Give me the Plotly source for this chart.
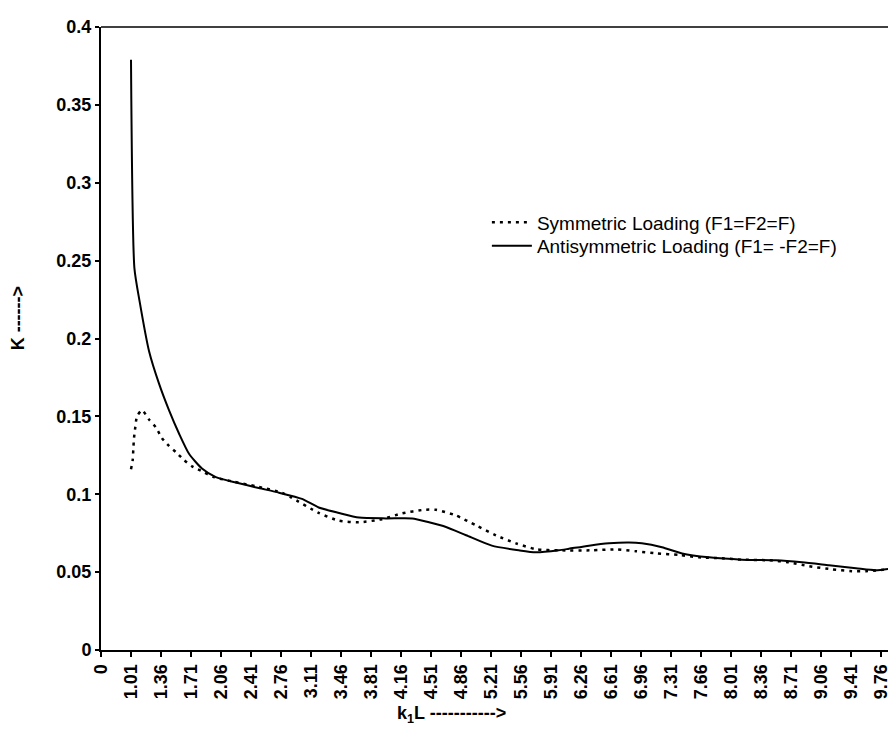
import plotly.graph_objects as go

# Tick labels along the k1L axis
x_tick_labels = ["0", "1.01", "1.36", "1.71", "2.06", "2.41", "2.76", "3.11", "3.46",
                 "3.81", "4.16", "4.51", "4.86", "5.21", "5.56", "5.91", "6.26", "6.61",
                 "6.96", "7.31", "7.66", "8.01", "8.36", "8.71", "9.06", "9.41", "9.76"]
y_tick_values = [0, 0.05, 0.1, 0.15, 0.2, 0.25, 0.3, 0.35, 0.4]
y_tick_labels = ["0", "0.05", "0.1", "0.15", "0.2", "0.25", "0.3", "0.35", "0.4"]

# Symmetric loading (F1=F2=F) -- dotted
sym_k = [1.01, 1.03, 1.037, 1.045, 1.06, 1.08, 1.138, 1.22, 1.30, 1.372, 1.453, 1.535,
         1.628, 1.72, 1.827, 1.978, 2.212, 2.48, 2.77, 2.877, 3.20, 3.437, 3.67, 3.938,
         4.172, 4.428, 4.57, 4.80, 5.035, 5.27, 5.50, 5.747, 6.0, 6.388, 6.668, 6.90,
         7.147, 7.404, 7.637, 7.905, 8.138, 8.454, 8.687, 8.92, 9.19, 9.422, 9.585,
         9.737, 9.912]
sym_K = [0.116, 0.122, 0.129, 0.136, 0.143, 0.150, 0.154, 0.148, 0.143, 0.136, 0.131, 0.127,
         0.122, 0.118, 0.115, 0.111, 0.108, 0.105, 0.101, 0.098, 0.088, 0.083, 0.082, 0.084,
         0.0877, 0.090, 0.090, 0.0864, 0.080, 0.0736, 0.0685, 0.0646, 0.064, 0.064, 0.0646, 0.0634,
         0.062, 0.061, 0.0595, 0.0589, 0.058, 0.0576, 0.0563, 0.0538, 0.0518, 0.0506, 0.0506,
         0.0512, 0.0525]

# Antisymmetric loading (F1=-F2=F) -- solid
anti_k = [1.01, 1.05, 1.11, 1.22, 1.337, 1.453, 1.57, 1.687, 1.838, 2.0, 2.235, 2.50,
          2.737, 3.005, 3.20, 3.437, 3.67, 3.985, 4.29, 4.487, 4.685, 4.92, 5.22, 5.537,
          5.735, 6.0, 6.12, 6.353, 6.587, 6.82, 6.97, 7.205, 7.44, 7.753, 8.138, 8.535,
          8.839, 9.154, 9.469, 9.70, 9.912]
anti_K = [0.379, 0.245, 0.224, 0.192, 0.171, 0.154, 0.139, 0.126, 0.1165, 0.111, 0.1075, 0.104,
          0.101, 0.097, 0.0915, 0.088, 0.085, 0.0845, 0.0845, 0.082, 0.079, 0.0737, 0.067, 0.064,
          0.0627, 0.064, 0.065, 0.067, 0.0685, 0.069, 0.0685, 0.066, 0.062, 0.0595, 0.058, 0.0576,
          0.0563, 0.0544, 0.0525, 0.0512, 0.0525]

step = 0.35
tick_pos = [float(x_tick_labels[1]) - step] + [float(t) for t in x_tick_labels[1:]]

FONT = "Liberation Sans, Arial, sans-serif"
PLOT_W = 794

fig = go.Figure()
fig.add_trace(go.Scatter(x=sym_k, y=sym_K, mode="lines",
                         name="Symmetric Loading (F1=F2=F)", legend="legend",
                         line=dict(color="black", width=2.5, dash="3px,5px", shape="spline", smoothing=0.6)))
fig.add_trace(go.Scatter(x=anti_k, y=anti_K, mode="lines",
                         name="Antisymmetric Loading (F1= -F2=F)", legend="legend2",
                         line=dict(color="black", width=2, shape="spline", smoothing=0.6)))

legend_style = dict(xanchor="left", yanchor="top",
                    font=dict(family=FONT, size=19, color="black"),
                    bgcolor="rgba(0,0,0,0)", itemwidth=40)

fig.update_layout(
    width=896, height=733,
    margin=dict(l=93, r=9, t=17, b=91),
    paper_bgcolor="white", plot_bgcolor="white",
    showlegend=True,
    legend=dict(x=0.486, y=0.717, **legend_style),
    legend2=dict(x=0.486, y=0.679, **legend_style),
    xaxis=dict(range=[tick_pos[0], tick_pos[0] + PLOT_W / 85.71],
               tickvals=tick_pos, ticktext=x_tick_labels, tickangle=-90,
               tickfont=dict(family=FONT, size=18, color="black", weight="bold"),
               showline=True, linecolor="black", linewidth=2,
               ticks="outside", ticklen=5, tickwidth=1.5, tickcolor="black",
               showgrid=False, zeroline=False),
    yaxis=dict(range=[0, 0.4], tickvals=y_tick_values, ticktext=y_tick_labels,
               tickfont=dict(family=FONT, size=18, color="black", weight="bold"),
               showline=True, linecolor="black", linewidth=2,
               ticks="outside", ticklen=4, tickwidth=1.5, tickcolor="black",
               showgrid=False, zeroline=False),
    shapes=[dict(type="line", xref="paper", yref="paper", x0=0, x1=1, y0=1, y1=1,
                 line=dict(color="black", width=1.5))],
    annotations=[
        dict(text="k<sub>1</sub>L ----------->", xref="paper", yref="paper",
             x=0.370, y=-0.104, xanchor="left", yanchor="middle",
             showarrow=False, font=dict(family=FONT, size=18, color="black", weight="bold")),
        dict(text="K ------>", xref="paper", yref="paper",
             x=-0.104, y=0.533, xanchor="center", yanchor="middle",
             textangle=-90, showarrow=False,
             font=dict(family=FONT, size=18, color="black", weight="bold")),
    ],
)

fig.write_html("out.html")
